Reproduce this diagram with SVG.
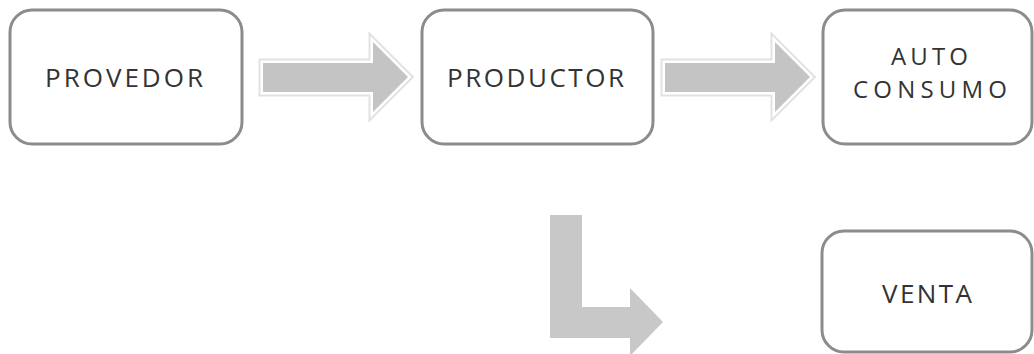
<svg xmlns="http://www.w3.org/2000/svg" width="1034" height="354" viewBox="0 0 1034 354">
<style>
.box{fill:#ffffff;stroke:#8c8c8c;stroke-width:3}
.lbl{font-family:"Open Sans","Liberation Sans",sans-serif;font-size:26px;fill:#333333}
.sm{font-size:24px}
.ao{fill:none;stroke:#e2e2e2;stroke-width:9;stroke-linejoin:miter}
.ai{fill:#c4c4c4;stroke:#ffffff;stroke-width:5;stroke-linejoin:miter;paint-order:stroke}
.al{fill:#c8c8c8}
</style>
<rect width="1034" height="354" fill="#ffffff"/>
<g id="connectors">
<g id="arrow1">
<polygon class="ao" points="263,63 373,63 373,42 408,77 373,112 373,92 263,92"/>
<polygon class="ai" points="263,63 373,63 373,42 408,77 373,112 373,92 263,92"/>
</g>
<g id="arrow2">
<polygon class="ao" points="665,63 775,63 775,42 810,77 775,112 775,92 665,92"/>
<polygon class="ai" points="665,63 775,63 775,42 810,77 775,112 775,92 665,92"/>
</g>
<polygon id="arrow3" class="al" points="550,215 582,215 582,307 630,307 630,288 663,322 630,356 630,338 550,338"/>
</g>
<g id="provedor">
<rect class="box" x="10" y="10" width="232" height="134" rx="22"/>
<text class="lbl" x="45" y="87" textLength="158">PROVEDOR</text>
</g>
<g id="productor">
<rect class="box" x="422" y="10" width="231" height="134" rx="22"/>
<text class="lbl" x="447" y="87" textLength="177">PRODUCTOR</text>
</g>
<g id="autoconsumo">
<rect class="box" x="823" y="10" width="209" height="134" rx="22"/>
<text class="lbl sm" x="891" y="65" textLength="77">AUTO</text>
<text class="lbl sm" x="853" y="98" textLength="154">CONSUMO</text>
</g>
<g id="venta">
<rect class="box" x="822" y="231" width="210" height="121" rx="22"/>
<text class="lbl" x="882" y="303" textLength="90">VENTA</text>
</g>
</svg>
